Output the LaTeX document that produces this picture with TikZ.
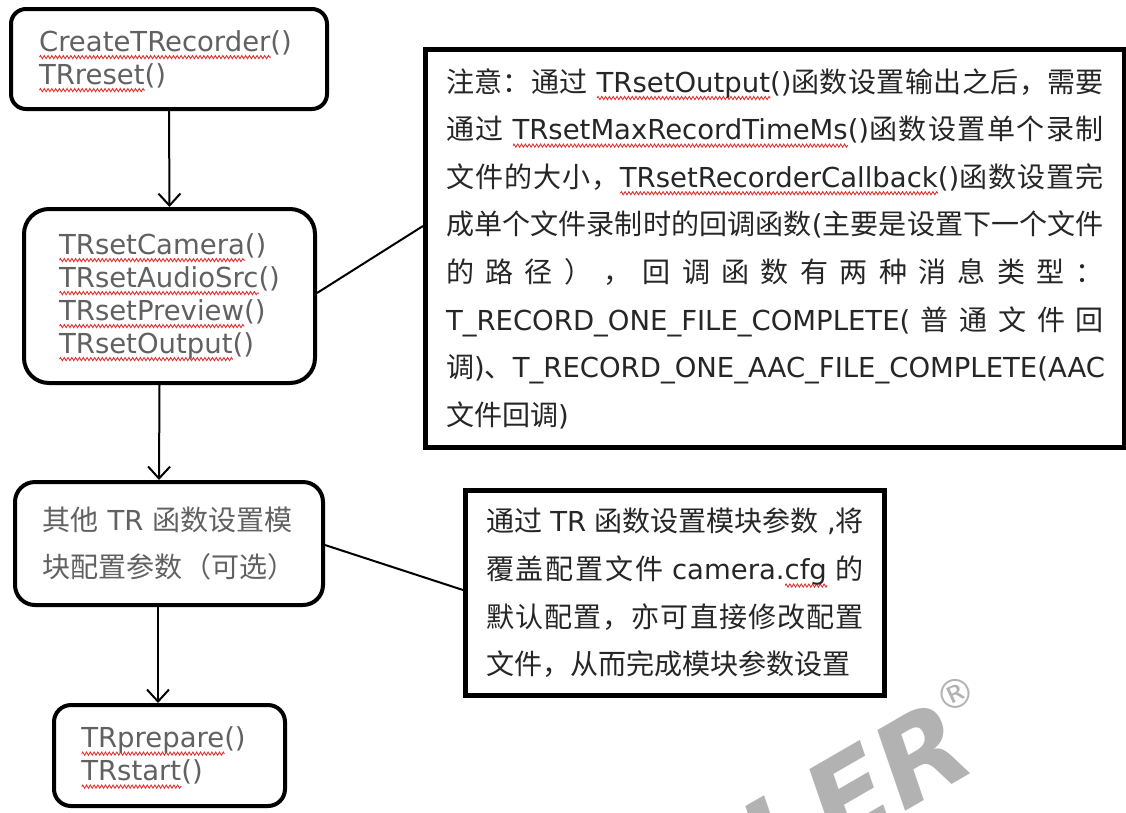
\documentclass[tikz,border=0pt]{standalone}
\usepackage{fontspec}
\setmainfont{DejaVu Sans}
\newfontfamily\cjk[Scale=1.02]{Noto Sans CJK SC}
\usetikzlibrary{arrows.meta,decorations.pathmorphing}
\definecolor{squigred}{RGB}{225,45,45}
\XeTeXinterchartokenstate=1
\newXeTeXintercharclass\CJKcls
\newcount\cjkcnt
\cjkcnt="4E00
\loop \XeTeXcharclass\cjkcnt=\CJKcls \advance\cjkcnt by 1 \ifnum\cjkcnt<"A000 \repeat
\cjkcnt="3000
\loop \XeTeXcharclass\cjkcnt=\CJKcls \advance\cjkcnt by 1 \ifnum\cjkcnt<"3040 \repeat
\cjkcnt="FF00
\loop \XeTeXcharclass\cjkcnt=\CJKcls \advance\cjkcnt by 1 \ifnum\cjkcnt<"FF60 \repeat
\XeTeXinterchartoks\CJKcls\CJKcls={\hskip 0pt plus 1em\relax}
\newlength\sqw
\tikzset{
  sq/.style={draw=squigred,line width=0.85pt,sharp corners,decorate,
    decoration={zigzag,amplitude=1.6pt,segment length=3.8pt}},
  flowbox/.style={draw=black,line width=4pt,fill=white,inner sep=0pt,align=left,
    text=black!62,font={\fontsize{27.5}{33}\selectfont}},
  notebox/.style={draw=black,line width=5pt,fill=white,inner sep=0pt,align=left,
    text=black!85,font={\fontsize{27.5}{47.6}\selectfont}},
  conn/.style={draw=black,line width=2pt},
  arr/.style={conn,-{Straight Barb[length=12pt,width=22pt]}}
}
\newcommand\squig[1]{\settowidth\sqw{#1}\leavevmode\rlap{\raisebox{-6pt}[0pt][0pt]{\tikz[baseline=0pt]\draw[sq] (0pt,0pt)--(\sqw,0pt);}}#1}
\newcommand\wl[1]{\makebox[658pt][s]{#1}}
\newcommand\nl[1]{\makebox[378pt][s]{#1}}
\begin{document}
\begin{tikzpicture}[x=1pt,y=-1pt]
\useasboundingbox (0,0) rectangle (1126,812);
\clip (0,0) rectangle (1126,812);
% watermark
\node[anchor=base east,rotate=30,text=black!30,inner sep=0pt,
  font={\fontsize{115}{115}\selectfont\bfseries\itshape}] (wm) at (980,768) {LER};
\node[text=black!30,inner sep=0pt,rotate=25,font={\fontsize{40}{40}\selectfont}] (reg) at (955,694) {®};
% flow boxes
\node[flowbox,rounded corners=15pt,minimum width=316pt,minimum height=100pt] (b1) at (169,59)
  {\squig{CreateTRecorder}()\hspace*{7pt}\\\squig{TRreset}()};
\node[flowbox,rounded corners=25pt,minimum width=291pt,minimum height=174pt] (b2) at (169.5,296)
  {\fontsize{27.5}{32.7}\selectfont\squig{TRsetCamera}()\\\squig{TRsetAudioSrc}()\hspace*{7.5pt}\\\squig{TRsetPreview}()\\\squig{TRsetOutput}()};
\node[flowbox,rounded corners=20pt,minimum width=308pt,minimum height=123pt,
  font={\fontsize{27.5}{47}\selectfont}] (b3) at (169,543.5)
  {{\cjk 其他} TR {\cjk 函数设置模}\\{\cjk 块配置参数（可选）}};
\node[flowbox,rounded corners=17pt,minimum width=231pt,minimum height=101pt] (b4) at (169.5,755.5)
  {\squig{TRprepare}()\hspace*{12pt}\\\squig{TRstart}()};
% note boxes
\node[notebox,minimum width=699pt,minimum height=398pt] (n1) at (775,248.5)
  {\wl{{\cjk 注意：通过} \squig{TRsetOutput}(){\cjk 函数设置输出之后，需要}}\\
   \wl{{\cjk 通过} \squig{TRsetMaxRecordTimeMs}(){\cjk 函数设置单个录制}}\\
   \wl{{\cjk 文件的大小，}\squig{TRsetRecorderCallback}(){\cjk 函数设置完}}\\
   \wl{{\cjk 成单个文件录制时的回调函数}({\cjk 主要是设置下一个文件}}\\
   \wl{{\cjk 的路径），回调函数有两种消息类型：}}\\
   \wl{T\_RECORD\_ONE\_FILE\_COMPLETE(\hskip 0pt plus 1em{\cjk 普通文件回}}\\
   \wl{{\cjk 调})\hskip 0pt plus 1em{\cjk 、}T\_RECORD\_ONE\_AAC\_FILE\_COMPLETE(AAC}\\
   {\cjk 文件回调})};
\node[notebox,minimum width=419pt,minimum height=205pt] (n2) at (675,593)
  {\nl{{\cjk 通过} TR {\cjk 函数设置模块参数} ,{\cjk 将}}\\
   \nl{{\cjk 覆盖配置文件} camera.\squig{cfg} {\cjk 的}}\\
   \nl{{\cjk 默认配置，亦可直接修改配置}}\\
   {\cjk 文件，从而完成模块参数设置}};
% connectors
\draw[arr] (b1.south) -- (b2.north);
\draw[arr] ([xshift=-10pt]b2.south) -- ([xshift=-10pt]b3.north);
\draw[arr] ([xshift=-11pt]b3.south) -- ([xshift=-11.5pt]b4.north);
\draw[conn] ([yshift=3pt]b2.east) -- ([yshift=22.5pt]n1.west);
\draw[conn] ([yshift=-1.5pt]b3.east) -- ([yshift=3pt]n2.west);
\end{tikzpicture}
\end{document}
